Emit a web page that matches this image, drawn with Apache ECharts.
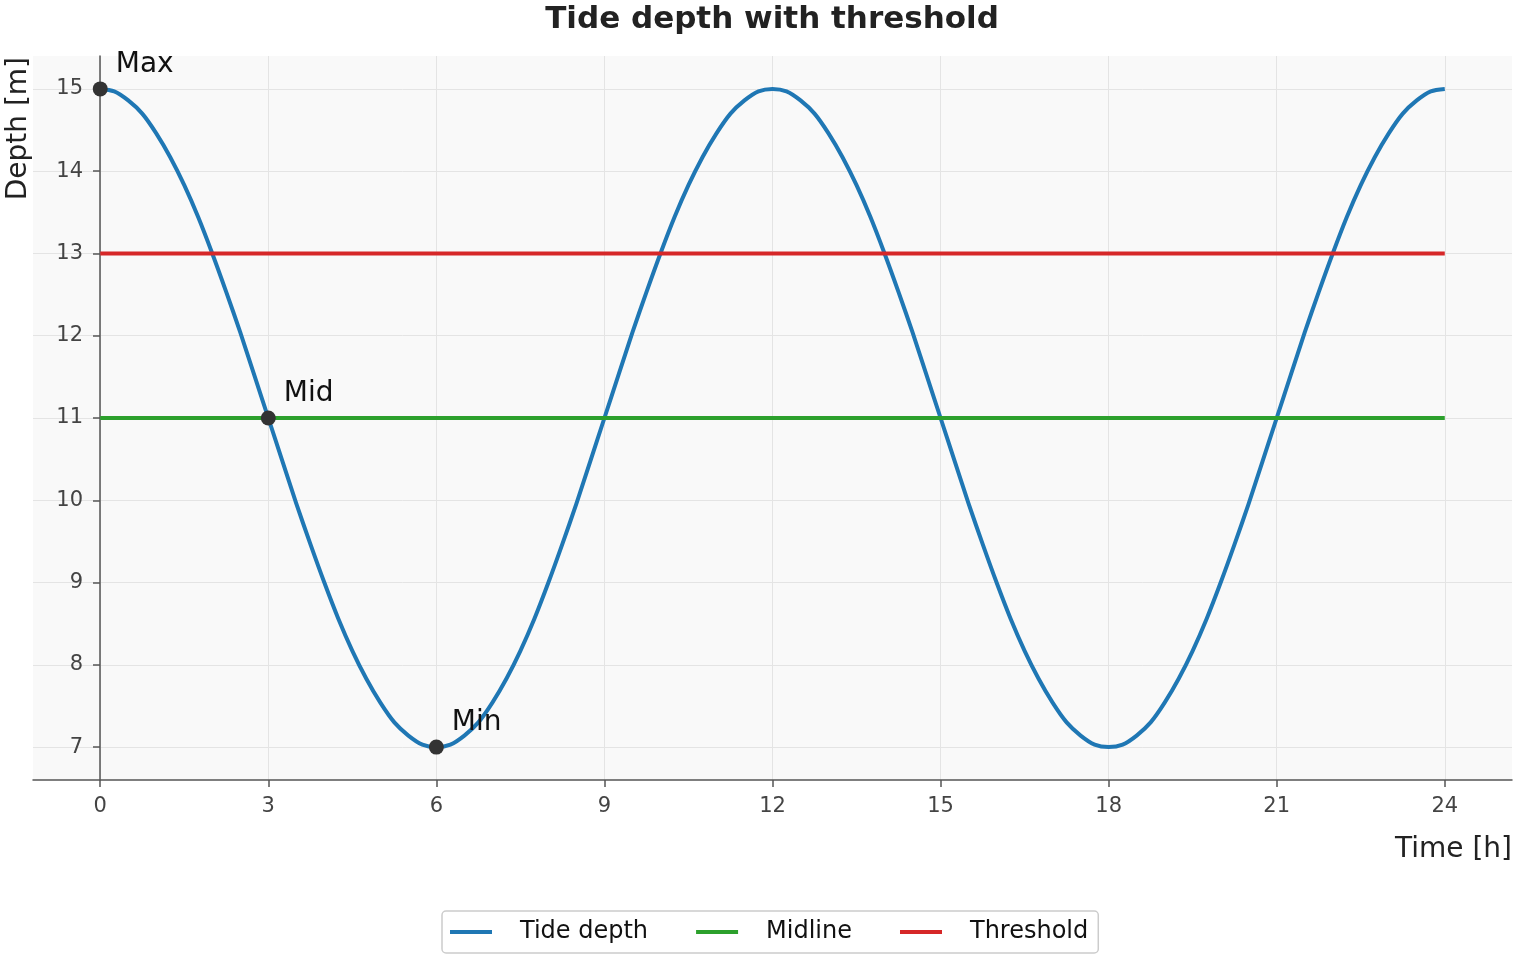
<!DOCTYPE html>
<html>
<head>
<meta charset="utf-8">
<script src="https://cdn.jsdelivr.net/npm/echarts@6/dist/echarts.min.js"></script>
<style>
  html, body { margin: 0; padding: 0; background: #fff; }
  #chart { width: 1520px; height: 960px; }
</style>
</head>
<body>
<div id="chart"></div>
<script>
// hours, sampled every quarter hour
const hours = [0, 0.25, 0.5, 0.75, 1, 1.25, 1.5, 1.75, 2, 2.25, 2.5, 2.75, 3, 3.25, 3.5, 3.75, 4, 4.25, 4.5, 4.75,
  5, 5.25, 5.5, 5.75, 6, 6.25, 6.5, 6.75, 7, 7.25, 7.5, 7.75, 8, 8.25, 8.5, 8.75, 9, 9.25, 9.5, 9.75,
  10, 10.25, 10.5, 10.75, 11, 11.25, 11.5, 11.75, 12, 12.25, 12.5, 12.75, 13, 13.25, 13.5, 13.75, 14, 14.25, 14.5, 14.75,
  15, 15.25, 15.5, 15.75, 16, 16.25, 16.5, 16.75, 17, 17.25, 17.5, 17.75, 18, 18.25, 18.5, 18.75, 19, 19.25, 19.5, 19.75,
  20, 20.25, 20.5, 20.75, 21, 21.25, 21.5, 21.75, 22, 22.25, 22.5, 22.75, 23, 23.25, 23.5, 23.75, 24]
const tideDepth = [15.00, 14.97, 14.86, 14.70, 14.46, 14.17, 13.83, 13.44, 13.00, 12.53, 12.04, 11.52,
  11.00, 10.48, 9.96, 9.47, 9.00, 8.56, 8.17, 7.83, 7.54, 7.30, 7.14, 7.03,
  7.00, 7.03, 7.14, 7.30, 7.54, 7.83, 8.17, 8.56, 9.00, 9.47, 9.96, 10.48,
  11.00, 11.52, 12.04, 12.53, 13.00, 13.44, 13.83, 14.17, 14.46, 14.70, 14.86, 14.97,
  15.00, 14.97, 14.86, 14.70, 14.46, 14.17, 13.83, 13.44, 13.00, 12.53, 12.04, 11.52,
  11.00, 10.48, 9.96, 9.47, 9.00, 8.56, 8.17, 7.83, 7.54, 7.30, 7.14, 7.03,
  7.00, 7.03, 7.14, 7.30, 7.54, 7.83, 8.17, 8.56, 9.00, 9.47, 9.96, 10.48,
  11.00, 11.52, 12.04, 12.53, 13.00, 13.44, 13.83, 14.17, 14.46, 14.70, 14.86, 14.97, 15.00]
const lineSpan = [0, 24]
const midline = 11
const threshold = 13
const markHours = [0, 3, 6]
const markDepths = [15, 11, 7]
const markNames = ['Max', 'Mid', 'Min']
const xTicks = [0, 3, 6, 9, 12, 15, 18, 21, 24]
const yTicks = [7, 8, 9, 10, 11, 12, 13, 14, 15]

const font = 'DejaVu Sans'
const chart = echarts.init(document.getElementById('chart'))

chart.setOption({
  animation: false,
  textStyle: { fontFamily: font },
  grid: {
    left: 33, right: 8, top: 56, bottom: 180,
    outerBoundsMode: 'none',
    show: true, backgroundColor: '#f9f9f9', borderWidth: 0
  },
  xAxis: {
    type: 'value',
    min: -1.2,
    max: 25.2,
    axisLine: { onZero: false, lineStyle: { color: '#555', width: 1.5 } },
    axisTick: { customValues: xTicks, length: 7, lineStyle: { color: '#555', width: 1.5 } },
    axisLabel: { customValues: xTicks, margin: 16, fontSize: 21, color: '#444', fontFamily: font },
    splitLine: { show: true, lineStyle: { color: '#e4e4e4', width: 1 } }
  },
  yAxis: {
    type: 'value',
    min: 6.6,
    max: 15.4,
    // sits on x = 0 (1.2 h from the left edge of the grid)
    offset: -67,
    axisLine: { show: true, onZero: false, lineStyle: { color: '#555', width: 1.5 } },
    axisTick: { show: true, customValues: yTicks, length: 7, lineStyle: { color: '#555', width: 1.5 } },
    axisLabel: { customValues: yTicks, margin: 17, fontSize: 21, color: '#444', fontFamily: font },
    splitLine: { show: true, lineStyle: { color: '#e4e4e4', width: 1 } }
  },
  graphic: [
    {
      type: 'text', x: 772, y: 20,
      style: {
        text: 'Tide depth with threshold', font: 'bold 31px "DejaVu Sans"', fill: '#222',
        align: 'center', verticalAlign: 'middle'
      }
    },
    {
      type: 'text', right: 8, top: 836,
      style: { text: 'Time [h]', font: '28px "DejaVu Sans"', fill: '#222' }
    },
    {
      type: 'text', left: 5, top: 57, rotation: Math.PI / 2,
      style: { text: 'Depth [m]', font: '28px "DejaVu Sans"', fill: '#222' }
    }
  ],
  legend: {
    top: 911,
    left: 442,
    data: ['Tide depth', 'Midline', 'Threshold'],
    icon: 'rect',
    itemWidth: 42,
    itemHeight: 4,
    itemGap: 48,
    padding: [9, 10, 9, 8],
    borderColor: '#ccc',
    borderWidth: 1.5,
    borderRadius: 4,
    textStyle: { fontFamily: font, fontSize: 24, color: '#111', padding: [0, 0, 0, 23] }
  },
  series: [
    {
      name: 'Tide depth',
      type: 'line',
      data: hours.map((h, i) => [h, tideDepth[i]]),
      smooth: 0.3,
      smoothMonotone: 'none',
      showSymbol: false,
      lineStyle: { color: '#1f77b4', width: 4, join: 'round' },
      itemStyle: { color: '#1f77b4' },
      z: 2
    },
    {
      name: 'Midline',
      type: 'line',
      data: lineSpan.map(h => [h, midline]),
      showSymbol: false,
      lineStyle: { color: '#2ca02c', width: 4 },
      itemStyle: { color: '#2ca02c' },
      z: 3
    },
    {
      name: 'Threshold',
      type: 'line',
      data: lineSpan.map(h => [h, threshold]),
      showSymbol: false,
      lineStyle: { color: '#d62728', width: 4 },
      itemStyle: { color: '#d62728' },
      z: 4
    },
    {
      name: 'Marks',
      type: 'scatter',
      data: markHours.map((h, i) => ({ value: [h, markDepths[i]], name: markNames[i] })),
      symbolSize: 15,
      itemStyle: { color: '#333', opacity: 1 },
      label: {
        show: true,
        formatter: p => p.name,
        position: 'right',
        distance: 8,
        offset: [0, -24],
        fontFamily: font,
        fontSize: 28,
        color: '#111'
      },
      z: 5
    }
  ]
})
</script>
</body>
</html>
